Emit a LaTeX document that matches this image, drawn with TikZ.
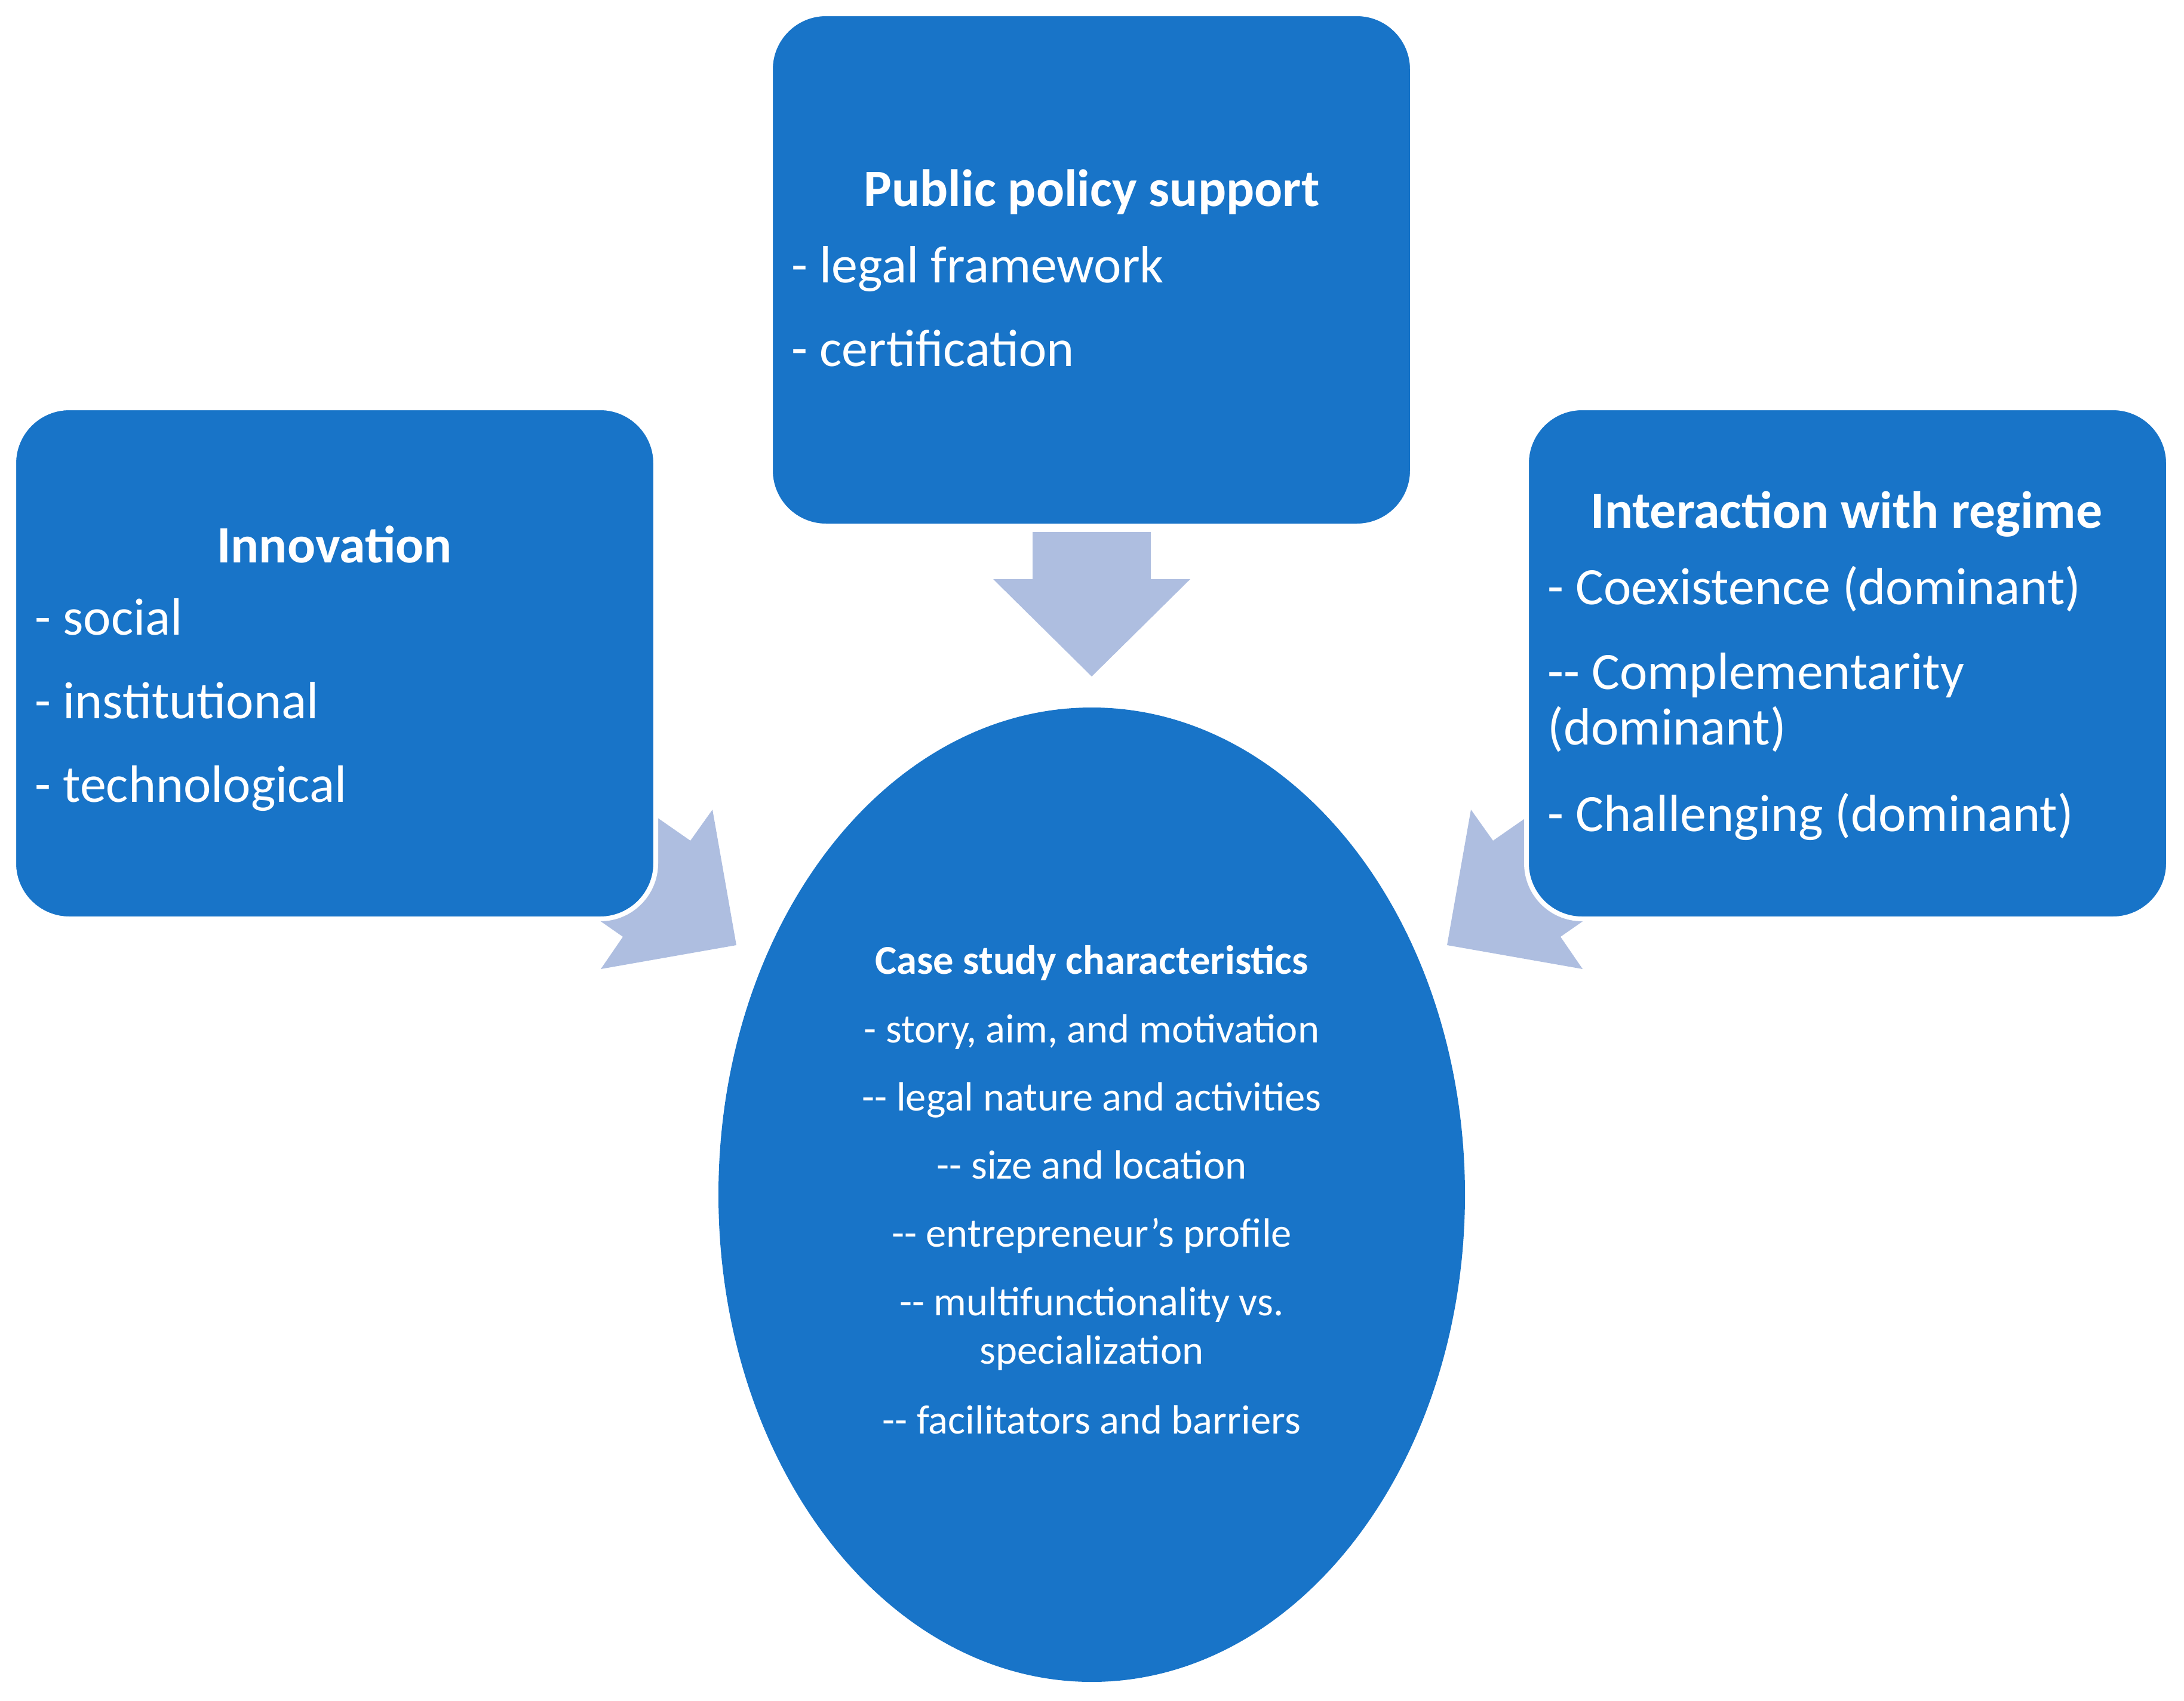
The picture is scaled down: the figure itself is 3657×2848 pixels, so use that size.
\documentclass[tikz,border=0pt]{standalone}
\usepackage{fontspec}
\setmainfont{Carlito}
\definecolor{boxblue}{HTML}{1874C8}
\definecolor{arr}{HTML}{AEBEE0}
\begin{document}
\begin{tikzpicture}[x=0.01cm,y=-0.01cm,
  box/.style={fill=boxblue,draw=white,line width=0.08cm,rounded corners=0.93cm},
  arrow/.style={fill=arr,draw=none},
  ttl/.style={text=white,font=\fontsize{25}{29}\selectfont\bfseries,inner sep=0},
  txt/.style={text=white,font=\fontsize{25}{29}\selectfont,inner sep=0,anchor=mid west},
  etx/.style={text=white,font=\fontsize{19.5}{23}\selectfont,inner sep=0,anchor=mid},
  ettl/.style={text=white,font=\fontsize{19.5}{23}\selectfont\bfseries,inner sep=0,anchor=mid}]
\useasboundingbox (0,0) rectangle (3657,2848);
% arrows
\fill[arrow] (1729,891) -- (1927,891) -- (1927,970) -- (1993,970) -- (1828,1133) -- (1663,970) -- (1729,970) -- cycle;
\fill[arrow] (972,1280) -- (1156,1408) -- (1193,1356) -- (1233,1583) -- (1006,1623) -- (1043,1569) -- (859,1441) -- cycle;
\fill[arrow] (2684,1280) -- (2500,1408) -- (2463,1356) -- (2423,1583) -- (2650,1623) -- (2613,1569) -- (2797,1441) -- cycle;
% boxes
\draw[box] (1290,23) rectangle (2365,881);
\draw[box] (23,683) rectangle (1098,1539);
\draw[box] (2556,683) rectangle (3631,1539);
\fill[boxblue] (1828,2001) ellipse [x radius=625, y radius=816];
% top text
\node[ttl] (t0) at (1828,322) {Public policy support};
\node[txt] (t1) at (1325,465) {- legal framework};
\node[txt] (t2) at (1325,605) {- certification};
% left text
\node[ttl] (l0) at (560,912) {Innovation};
\node[txt] (l1) at (58,1055) {- social};
\node[txt] (l2) at (58,1195) {- institutional};
\node[txt] (l3) at (58,1335) {- technological};
% right text
\node[ttl] (r0) at (3092,861) {Interaction with regime};
\node[txt] (r1) at (2591,1004) {- Coexistence (dominant)};
\node[txt] (r2) at (2591,1146) {{-}{-} Complementarity};
\node[txt] (r3) at (2591,1239) {(dominant)};
\node[txt] (r4) at (2591,1384) {- Challenging (dominant)};
% ellipse text
\node[ettl] (e0) at (1828,1623) {Case study characteristics};
\node[etx] (e1) at (1828,1738) {- story, aim, and motivation};
\node[etx] (e2) at (1828,1852) {{-}{-} legal nature and activities};
\node[etx] (e3) at (1828,1966) {{-}{-} size and location};
\node[etx] (e4) at (1828,2080) {{-}{-} entrepreneur\char39 s profile};
\node[etx] (e5) at (1828,2195) {{-}{-} multifunctionality vs.};
\node[etx] (e6) at (1828,2276) {specialization};
\node[etx] (e7) at (1828,2393) {{-}{-} facilitators and barriers};
\end{tikzpicture}
\end{document}
